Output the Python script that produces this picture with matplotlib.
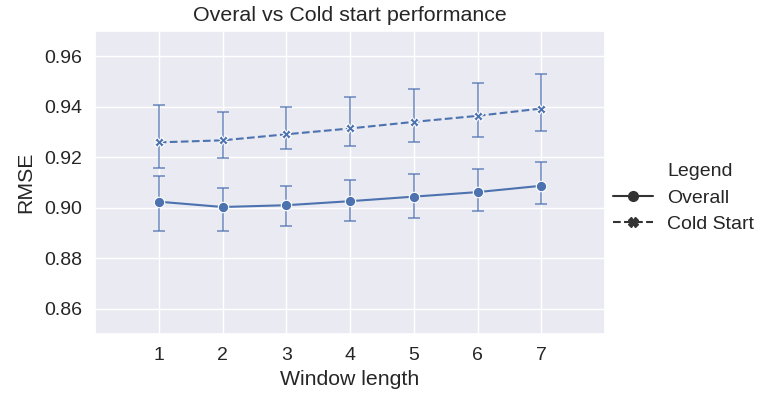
import matplotlib
matplotlib.use("Agg")
import matplotlib.pyplot as plt
import seaborn as sns
import numpy as np
from matplotlib.lines import Line2D

sns.set_theme(style="darkgrid", font_scale=1.4)
plt.rcParams['font.family'] = ['Arial', 'Liberation Sans', 'DejaVu Sans']

window = [1, 2, 3, 4, 5, 6, 7]
overall = [0.9024, 0.9003, 0.9010, 0.9026, 0.9044, 0.9062, 0.9087]
overall_lo = [0.8908, 0.8907, 0.8927, 0.8947, 0.8961, 0.8986, 0.9016]
overall_hi = [0.9127, 0.9080, 0.9087, 0.9110, 0.9135, 0.9153, 0.9180]
cold = [0.9259, 0.9267, 0.9291, 0.9314, 0.9340, 0.9364, 0.9393]
cold_lo = [0.9159, 0.9198, 0.9232, 0.9244, 0.9260, 0.9281, 0.9302]
cold_hi = [0.9405, 0.9381, 0.9400, 0.9438, 0.9471, 0.9493, 0.9528]

color = sns.color_palette()[0]

fig = plt.figure(figsize=(7.58, 3.96), dpi=100)
ax = fig.add_axes([95/758, 1-334/396, 510/758, 303/396])

def draw(y, lo, hi, marker, ls, ms):
    y = np.array(y); lo = np.array(lo); hi = np.array(hi)
    ax.errorbar(window, y, yerr=[y - lo, hi - y], fmt='none', ecolor=color,
                alpha=0.75, elinewidth=1.2, capsize=4.5, capthick=1.2, zorder=2)
    ax.plot(window, y, color=color, ls=ls, lw=1.5, marker=marker, ms=ms,
            mec='white', mew=0.8, zorder=3)

draw(overall, overall_lo, overall_hi, 'o', '-', 7.5)
draw(cold, cold_lo, cold_hi, 'X', (0, (3.7, 1.6)), 7)

ax.set_xlim(0, 8)
ax.set_ylim(0.85, 0.97)
ax.set_xticks(window)
ax.set_yticks([0.86, 0.88, 0.90, 0.92, 0.94, 0.96])
ax.set_yticklabels(['0.86', '0.88', '0.90', '0.92', '0.94', '0.96'])
ax.tick_params(labelsize=14)
ax.set_xlabel('Window length', fontsize=15.3, labelpad=4)
ax.set_ylabel('RMSE', fontsize=15.3, labelpad=6)
ax.set_title('Overal vs Cold start performance', fontsize=15.4, pad=7)

handles = [
    Line2D([], [], color='none', label='Legend'),
    Line2D([], [], color='#333333', marker='o', ls='-', lw=1.5, ms=7, label='Overall'),
    Line2D([], [], color='#333333', marker='X', ls=(0, (3.7, 1.6)), lw=1.5, ms=7, label='Cold Start'),
]
leg = fig.legend(handles=handles, loc='center left', bbox_to_anchor=(595/758, 0.5),
                 frameon=False, handlelength=2.1, handletextpad=0.7, fontsize=14,
                 labelspacing=0.45)

fig.savefig('out.png', dpi=100)
